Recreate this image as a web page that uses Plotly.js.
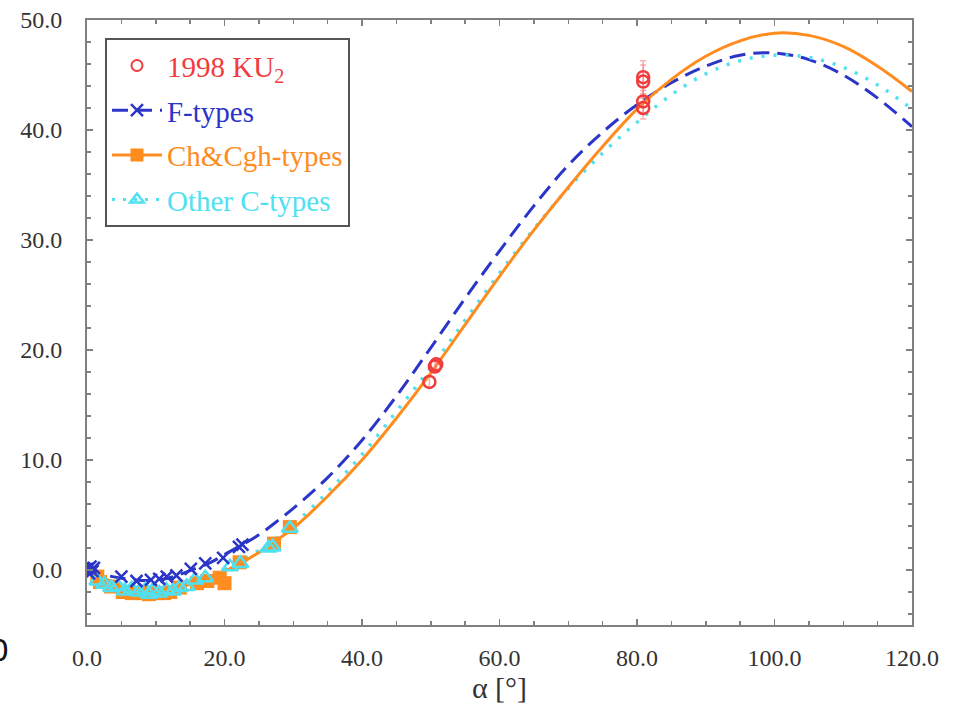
<!DOCTYPE html>
<html>
<head>
<meta charset="utf-8">
<script src="https://cdn.plot.ly/plotly-3.0.1.min.js"></script>
<style>html,body{margin:0;padding:0;background:#fff;}#chart{width:961px;height:711px;}</style>
</head>
<body>
<div id="chart"></div>
<script>
// ---- data ----
var alphaCurve = [0,3,5,8,10,12,15,18,20,22,25,28,30,35,40,45,50,55,60,65,70,75,80,85,90,95,100,105,110,115,120];
var fTypesCurve = [0.1,-0.5,-0.75,-0.95,-0.9,-0.7,-0.05,0.7,1.4,2.1,3.2,4.6,5.6,8.4,11.8,15.8,20.2,24.7,29.0,33.1,36.8,39.8,42.3,44.3,45.8,46.8,47.0,46.4,45.0,42.9,40.3];
var chCurve = [0.0,-0.9,-1.35,-1.75,-1.85,-1.75,-1.3,-0.6,-0.1,0.5,1.6,2.9,3.8,6.7,10.0,13.8,17.9,22.3,26.7,30.9,34.8,38.5,41.9,44.6,46.7,48.1,48.8,48.6,47.6,45.8,43.5];
var otherCCurve = [0.0,-0.9,-1.3,-1.7,-1.75,-1.6,-1.15,-0.45,0.05,0.65,1.8,3.1,4.1,7.1,10.5,14.4,18.4,22.7,27.0,31.0,34.7,37.9,40.7,43.2,45.1,46.3,46.8,46.6,45.7,44.1,41.9];

var ku2Alpha = [49.8,50.6,50.8,80.9,80.9,80.9,80.9];
var ku2Pol   = [17.1,18.5,18.7,44.4,44.8,42.6,42.0];
var ku2Err   = [0.5,0.5,0.5,1.5,1.5,1.0,1.0];

var fAlpha = [0.0,0.3,0.5,0.8,1.0,5.0,7.2,9.3,10.5,11.6,13.0,15.1,17.2,19.8,22.1,22.6];
var fPol   = [0.1,-0.3,0.3,-0.1,0.2,-0.6,-1.0,-0.9,-0.8,-0.6,-0.5,0.1,0.6,1.1,2.1,2.3];

var chAlpha = [1.5,1.9,3.5,5.2,6.5,7.7,9.0,10.2,11.2,12.1,13.5,16.0,17.5,19.3,20.0,22.2,27.2,29.5];
var chPol   = [-0.6,-1.1,-1.5,-2.0,-2.1,-2.1,-2.2,-2.1,-2.1,-2.0,-1.6,-1.2,-1.0,-0.7,-1.2,0.7,2.4,3.9];

var ocAlpha = [1.5,2.5,3.5,4.5,5.5,6.5,7.5,8.5,9.0,9.5,10.5,11.5,12.5,13.5,14.5,15.7,17.2,20.8,22.3,26.4,27.0,29.5];
var ocPol   = [-1.0,-1.3,-1.6,-1.5,-1.9,-1.7,-2.0,-1.8,-2.2,-1.9,-2.1,-1.8,-1.9,-1.6,-1.5,-0.9,-0.7,0.3,0.6,2.0,2.1,3.8];

var xTickVals = [0,20,40,60,80,100,120];
var xTickText = ['0.0','20.0','40.0','60.0','80.0','100.0','120.0'];
var yTickVals = [0,10,20,30,40,50];
var yTickText = ['0.0','10.0','20.0','30.0','40.0','50.0'];

// ---- styles ----
var cRed = '#f23b3b', cBlue = '#2b35c8', cOrange = '#ff8c1e', cCyan = '#4fe1f2';
var serif = 'Liberation Serif, Times New Roman, serif';

var traces = [
  {x: alphaCurve, y: fTypesCurve, mode: 'lines', line: {color: cBlue, width: 3, dash: '16px,8px', shape: 'spline'}, showlegend: false, hoverinfo: 'skip'},
  {x: alphaCurve, y: otherCCurve, mode: 'lines', line: {color: cCyan, width: 3.5, dash: '3px,9px', shape: 'spline'}, showlegend: false, hoverinfo: 'skip'},
  {x: alphaCurve, y: chCurve, mode: 'lines', line: {color: cOrange, width: 3, shape: 'spline'}, showlegend: false, hoverinfo: 'skip'},
  {x: chAlpha, y: chPol, mode: 'markers', marker: {symbol: 'square', size: 14, color: cOrange}, showlegend: false},
  {x: ocAlpha, y: ocPol, mode: 'markers', marker: {symbol: 'triangle-up-open', size: 14, color: cCyan, line: {width: 2.5, color: cCyan}}, showlegend: false},
  {x: fAlpha, y: fPol, mode: 'markers', marker: {symbol: 'x-thin-open', size: 12, color: cBlue, line: {width: 2.5, color: cBlue}}, showlegend: false},
  {x: ku2Alpha, y: ku2Pol, mode: 'markers', error_y: {type: 'data', array: ku2Err, visible: true, color: 'rgba(250,120,120,0.6)', thickness: 1.5, width: 3},
   marker: {symbol: 'circle-open', size: 12, color: cRed, line: {width: 2.5, color: cRed}}, showlegend: false},
  // legend entries
  {x: [null], y: [null], mode: 'markers', name: '<span style="color:' + cRed + '">1998 KU<sub>2</sub></span>', legendgroup: 'a',
   marker: {symbol: 'circle-open', size: 11, color: cRed, line: {width: 2, color: cRed}}},
  {x: [null], y: [null], mode: 'lines+markers', name: '<span style="color:' + cBlue + '">F-types</span>', legendgroup: 'b',
   line: {color: cBlue, width: 3, dash: '16px,8px'}, marker: {symbol: 'x-thin-open', size: 12, color: cBlue, line: {width: 2.5, color: cBlue}}},
  {x: [null], y: [null], mode: 'lines+markers', name: '<span style="color:' + cOrange + '">Ch&amp;Cgh-types</span>', legendgroup: 'c',
   line: {color: cOrange, width: 3}, marker: {symbol: 'square', size: 13, color: cOrange}},
  {x: [null], y: [null], mode: 'lines+markers', name: '<span style="color:' + cCyan + '">Other C-types</span>', legendgroup: 'd',
   line: {color: cCyan, width: 3, dash: '3px,8px'}, marker: {symbol: 'triangle-up-open', size: 12, color: cCyan, line: {width: 2.5, color: cCyan}}}
];

var axisCommon = {
  showgrid: false, zeroline: false, showline: true, mirror: 'ticks',
  linecolor: '#808080', linewidth: 2, ticks: 'inside', ticklen: 6, tickwidth: 1.5, tickcolor: '#808080',
  tickfont: {family: serif, size: 24, color: '#333'}
};

var layout = {
  width: 961, height: 711,
  margin: {l: 87, r: 49, t: 20, b: 86},
  paper_bgcolor: '#fff', plot_bgcolor: '#fff',
  xaxis: Object.assign({}, axisCommon, {
    range: [0, 120], tickmode: 'array', tickvals: xTickVals, ticktext: xTickText,
    minor: {dtick: 5, ticks: 'inside', ticklen: 4, tickcolor: '#808080', tickwidth: 1.5},
    ticklabelstandoff: 10,
    title: {text: 'α [°]', font: {family: serif, size: 30, color: '#333'}, standoff: 4}
  }),
  yaxis: Object.assign({}, axisCommon, {
    range: [-5, 50], tickmode: 'array', tickvals: yTickVals, ticktext: yTickText,
    minor: {dtick: 2, tick0: 0, ticks: 'inside', ticklen: 4, tickcolor: '#808080', tickwidth: 1.5},
    ticklabelstandoff: 18
  }),
  legend: {
    x: 0.0218, y: 0.97, xanchor: 'left', yanchor: 'top',
    bgcolor: '#fff', bordercolor: '#555', borderwidth: 2,
    font: {family: serif, size: 29},
    traceorder: 'grouped', tracegroupgap: 4, itemwidth: 50
  },
  annotations: [
    {text: '0', xref: 'paper', yref: 'paper', x: (11 - 87) / 825, y: (625 - 650) / 605,
     xanchor: 'right', yanchor: 'middle', showarrow: false,
     font: {family: 'DejaVu Sans, sans-serif', size: 30, color: '#111'}}
  ],
  showlegend: true
};

Plotly.newPlot('chart', traces, layout, {displayModeBar: false, staticPlot: true});
</script>
</body>
</html>
